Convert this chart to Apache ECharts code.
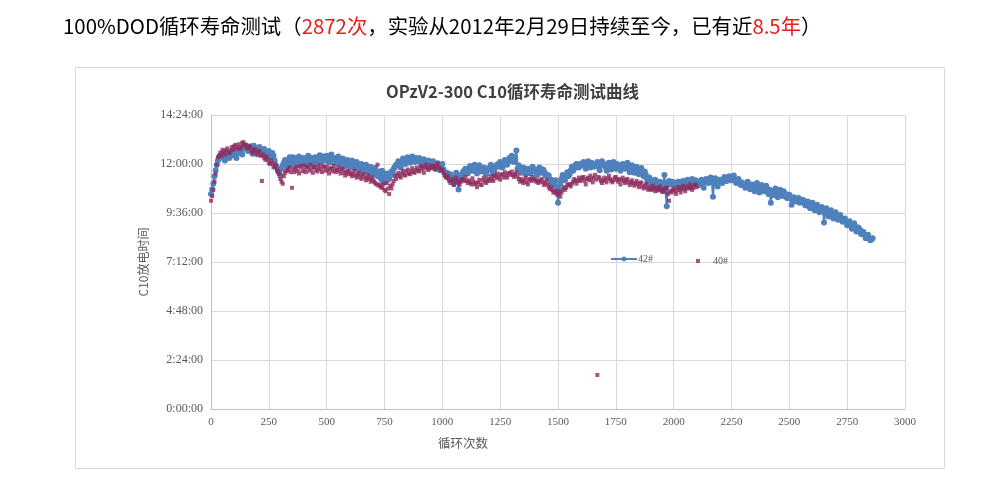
<!DOCTYPE html>
<html>
<head>
<meta charset="utf-8">
<script src="https://cdn.jsdelivr.net/npm/echarts@6/dist/echarts.min.js"></script>
<style>
html,body{margin:0;padding:0;background:#fff;}
#chart{width:984px;height:482px;}
</style>
</head>
<body>
<div id="chart"></div>
<script>
// cycle sampling step (cycles between read-off points); the "Mid" arrays are read halfway between
const cycleStep = 10;
// 42#: C10 discharge time in minutes at cycles 0,10,20,...
const series42 = [
632,662,702,730,742,748,730,752,738,750,
756,738,752,762,770,775,758,772,750,766,
760,770,748,764,742,758,740,744,716,698,
686,716,732,712,740,720,736,716,742,724,
738,718,744,726,720,740,722,746,728,740,
744,724,748,730,722,742,718,736,714,732,
712,730,708,726,704,720,700,718,694,712,
690,708,684,690,700,666,692,676,698,706,
718,728,710,736,720,740,724,742,726,732,
738,718,734,714,730,710,728,706,722,702,
720,696,694,676,682,662,694,645,686,698,
706,692,714,700,718,692,716,698,710,690,
706,718,692,712,720,726,710,732,718,738,
744,726,760,716,694,710,690,706,692,712,
704,688,710,694,698,690,686,664,670,672,
606,662,688,672,696,690,712,706,720,710,
716,726,706,728,710,720,714,726,702,728,
720,700,724,704,726,706,716,700,720,706,
724,696,716,694,712,690,708,684,688,666,
672,654,674,648,668,644,688,596,670,662,
662,656,668,650,670,660,674,652,676,664,
668,658,674,650,676,664,680,624,678,654,
674,664,682,670,684,672,686,664,676,658,
662,650,668,646,660,640,664,636,658,640,
656,632,606,628,648,622,644,626,634,620,
630,600,622,610,620,608,614,598,610,590,
606,584,600,578,594,548,590,566,584,560,
578,556,570,550,560,540,552,530,546,522,
532,514,520,502,512,496,502
];
// 42#: at cycles 5,15,25,...
const series42Mid = [
646,684,718,736,740,744,742,746,744,758,
744,760,756,748,766,762,766,760,774,752,
764,754,760,750,752,746,752,730,710,694,
706,724,722,730,728,740,724,730,732,736,
728,736,732,738,732,724,736,734,742,730,
734,740,726,738,732,726,728,722,726,720,
722,716,718,712,714,708,712,702,706,698,
700,694,698,676,680,684,688,686,694,712,
716,720,724,728,732,730,736,730,738,728,
726,730,720,724,720,722,716,720,712,714,
704,686,682,690,672,680,668,674,690,700,
700,704,706,710,698,708,704,706,696,702,
710,702,704,716,712,720,722,724,730,728,
734,740,706,704,702,698,700,696,704,700,
696,700,698,704,688,682,676,672,658,650,
640,676,680,686,684,702,700,716,712,720,
720,714,720,716,724,712,718,712,718,716,
712,716,710,716,712,720,708,712,714,718,
708,708,702,704,700,698,694,698,676,680,
662,664,656,662,654,664,640,660,660,668,
664,660,660,664,662,670,664,664,670,672,
664,668,662,668,670,672,668,666,664,668,
668,676,672,678,676,680,674,670,668,666,
656,658,654,652,650,654,648,650,646,648,
642,644,636,640,634,636,630,640,628,630,
618,614,616,612,606,614,604,606,598,600,
596,592,588,590,584,576,576,578,572,570,
566,566,560,556,550,548,540,542,534,534,
526,522,512,508,502,498
];
// 40#: at cycles 0,10,20,...
const series40 = [
612,644,692,740,754,762,748,766,752,770,
772,766,778,770,784,774,766,770,752,764,
746,758,670,738,742,724,730,710,718,698,
676,662,694,700,710,650,696,712,692,710,
716,696,710,718,694,712,698,716,696,710,
712,692,708,714,696,710,692,704,686,700,
698,684,700,680,694,676,690,672,686,668,
674,664,718,660,650,644,664,632,648,670,
676,694,680,700,686,704,690,708,694,710,
698,714,694,718,702,716,712,704,722,708,
704,688,686,670,672,658,680,666,668,676,
682,664,666,678,660,652,674,658,680,664,
676,684,670,686,692,674,690,696,680,694,
698,682,696,676,676,664,680,660,676,682,
674,672,668,676,658,672,652,652,636,636,
640,624,646,644,658,660,662,676,662,680,
674,682,660,680,686,666,688,100,678,664,
680,666,686,670,672,682,668,660,680,664,
676,658,672,656,670,652,666,648,662,644,
646,656,640,642,654,638,640,650,612,636,
648,632,652,636,656,640,654,660,644,658,
652
];
// 40#: at cycles 5,15,25,...
const series40Mid = [
626,668,718,746,744,756,760,754,760,762,
776,770,764,782,776,768,772,758,762,756,
756,744,748,732,734,720,722,714,704,690,
668,684,700,704,696,706,704,700,714,698,
704,712,700,706,710,702,708,704,714,700,
702,706,698,704,702,700,706,694,696,690,
690,692,686,690,682,688,680,678,676,680,
668,660,656,652,662,640,648,656,660,684,
688,684,692,688,698,692,700,696,702,700,
708,704,710,706,710,708,714,716,710,702,
694,680,682,664,676,668,672,660,674,670,
670,672,660,668,664,666,660,672,668,674,
670,676,684,678,682,688,680,686,692,688,
688,690,684,668,670,672,666,674,670,676,
668,664,672,666,664,660,646,644,640,630,
632,636,652,650,660,654,668,670,672,670,
680,670,676,672,676,680,674,682,670,672,
672,678,676,666,680,674,676,672,670,674,
666,666,662,664,660,664,654,656,650,652,
644,648,650,646,644,646,650,632,640,644,
640,644,644,648,646,650,648,652,650,660
];
const yTickLabels = ['0:00:00','2:24:00','4:48:00','7:12:00','9:36:00','12:00:00','14:24:00'];
const yInterval = 144; // minutes
const seriesNames = ['42#','40#'];

function toPoints(main, mid) {
  const pts = [];
  for (let i = 0; i < main.length; i++) {
    pts.push([i * cycleStep, main[i]]);
    if (i < mid.length) pts.push([i * cycleStep + cycleStep / 2, mid[i]]);
  }
  return pts;
}

const chart = echarts.init(document.getElementById('chart'), null, {renderer:'canvas'});
const serifFont = '"Liberation Serif", "DejaVu Serif", serif';
const cjkFont = '"Noto Sans CJK SC", "Noto Sans", sans-serif';

chart.setOption({
  animation: false,
  backgroundColor: '#fff',
  graphic: [
    {type:'rect', shape:{x:75.5, y:67.5, width:869, height:401}, style:{fill:'none', stroke:'#d9d9d9', lineWidth:1}, silent:true},
    {type:'text', left:63, top:16, style:{
      text:'{b|100%DOD循环寿命测试（}{r|2872次}{b|，实验从2012年2月29日持续至今，已有近}{r|8.5年}{b|）}',
      rich:{
        b:{fill:'#000', fontSize:20.4, fontFamily:cjkFont},
        r:{fill:'#e3201b', fontSize:20.4, fontFamily:cjkFont}
      }
    }},
    {type:'text', left:438, top:437, style:{text:'循环次数', fill:'#595959', fontSize:12.5, fontFamily:cjkFont}}
  ],
  title: {
    text: 'OPzV2-300 C10循环寿命测试曲线',
    left: 381, top: 78,
    textStyle: {fontSize:16.5, fontWeight:'bold', color:'#404040', fontFamily:cjkFont}
  },
  legend: [
    {data:[seriesNames[0]], left:605, top:249, itemWidth:26, itemHeight:6, itemGap:0,
     textStyle:{fontSize:10, color:'#595959', fontFamily:serifFont, padding:[0,0,0,-4]}},
    {data:[{name:seriesNames[1], icon:'rect'}], left:691, top:251, itemWidth:4, itemHeight:4,
     textStyle:{fontSize:10, color:'#595959', fontFamily:serifFont, padding:[0,0,0,8]}}
  ],
  grid: {left:211, right:79, top:115, bottom:73},
  xAxis: {
    type:'value', min:0, max:3000, interval:250,
    axisLine:{show:true, lineStyle:{color:'#bfbfbf'}},
    axisTick:{show:false},
    axisLabel:{color:'#595959', fontSize:11, fontFamily:serifFont, margin:8, formatter: v => String(v)},
    splitLine:{show:true, lineStyle:{color:'#d9d9d9'}}
  },
  yAxis: {
    type:'value', min:0, max:yInterval*6, interval:yInterval,
    name:'C10放电时间', nameLocation:'middle', nameGap:58,
    nameTextStyle:{color:'#595959', fontSize:12, fontFamily:cjkFont},
    axisLine:{show:true, lineStyle:{color:'#bfbfbf'}},
    axisTick:{show:false},
    axisLabel:{color:'#595959', fontSize:12, fontFamily:serifFont, margin:8,
      formatter: v => yTickLabels[Math.round(v / yInterval)]},
    splitLine:{show:true, lineStyle:{color:'#d9d9d9'}}
  },
  series: [
    {
      name: seriesNames[0], type:'line', data: toPoints(series42, series42Mid),
      symbol:'circle', symbolSize:6, showSymbol:true, showAllSymbol:true,
      lineStyle:{color:'#4f81bd', width:2},
      itemStyle:{color:'#4f81bd'},
      z:2
    },
    {
      name: seriesNames[1], type:'scatter', data: toPoints(series40, series40Mid),
      symbol:'rect', symbolSize:4,
      itemStyle:{color:'#8e2c5e'},
      z:3
    }
  ]
});
</script>
</body>
</html>
